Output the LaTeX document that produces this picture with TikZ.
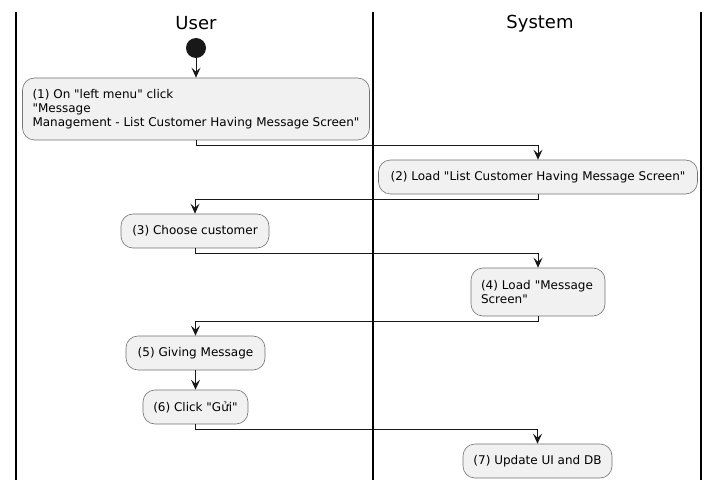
\documentclass[tikz,border=0pt]{standalone}
\usepackage{fontspec}
\setmainfont{DejaVu Sans}[Ligatures=TeXOff]
\usetikzlibrary{arrows.meta}
\definecolor{boxfill}{HTML}{F1F1F1}
\definecolor{boxline}{HTML}{181818}
\begin{document}
\begin{tikzpicture}[x=1pt,y=-1pt,
  act/.style={draw=boxline!60, line width=0.6pt, fill=boxfill, rounded corners=12pt,
    inner sep=0pt, align=left, font=\fontsize{12}{14}\selectfont},
  flow/.style={draw=boxline, line width=1pt,
    -{Stealth[length=10pt,width=9pt,inset=4pt]}},
  lane/.style={draw=black, line width=1.4pt},
  title/.style={font=\fontsize{18}{20}\selectfont}]
\useasboundingbox (0,0) rectangle (720,489);
\fill[white] (0,0) rectangle (720,489);
% lanes
\coordinate (l1t) at (16,12); \coordinate (l1b) at (16,480);
\coordinate (l2t) at (373,12); \coordinate (l2b) at (373,480);
\coordinate (l3t) at (701,12); \coordinate (l3b) at (701,480);
\draw[lane] (l1t) -- (l1b);
\draw[lane] (l2t) -- (l2b);
\draw[lane] (l3t) -- (l3b);
\node[title] (tu) at (196,23.5) {User};
\node[title] (ts) at (540,23.5) {System};
% start
\node[circle, fill=boxline, minimum size=20pt, inner sep=0pt] (start) at (196,48) {};
% activities
\node[act, minimum width=347pt, minimum height=62pt] (b1) at (196,109)
  {(1) On "left menu" click\\"Message\\Management - List Customer Having Message Screen"};
\node[act, minimum width=319pt, minimum height=34pt] (b2) at (538,177)
  {(2) Load "List Customer Having Message Screen"};
\node[act, minimum width=148pt, minimum height=34pt] (b3) at (195,231)
  {(3) Choose customer};
\node[act, minimum width=134pt, minimum height=48pt, text width=114pt] (b4) at (538,292)
  {(4) Load "Message\\Screen"};
\node[act, minimum width=139pt, minimum height=34pt] (b5) at (195.5,353)
  {(5) Giving Message};
\node[act, minimum width=105pt, minimum height=34pt] (b6) at (195.5,407)
  {(6) Click "Gửi"};
\node[act, minimum width=149pt, minimum height=34pt] (b7) at (537.5,461)
  {(7) Update UI and DB};
% connectors
\draw[flow] (start) -- (b1);
\draw[flow] (b1.south) -- ++(0,5) -| (b2.north);
\draw[flow] (b2.south) -- ++(0,5) -| (b3.north);
\draw[flow] (b3.south) -- ++(0,5) -| (b4.north);
\draw[flow] (b4.south) -- ++(0,5) -| (b5.north);
\draw[flow] (b5) -- (b6);
\draw[flow] (b6.south) -- ++(0,5) -| (b7.north);
\end{tikzpicture}
\end{document}
